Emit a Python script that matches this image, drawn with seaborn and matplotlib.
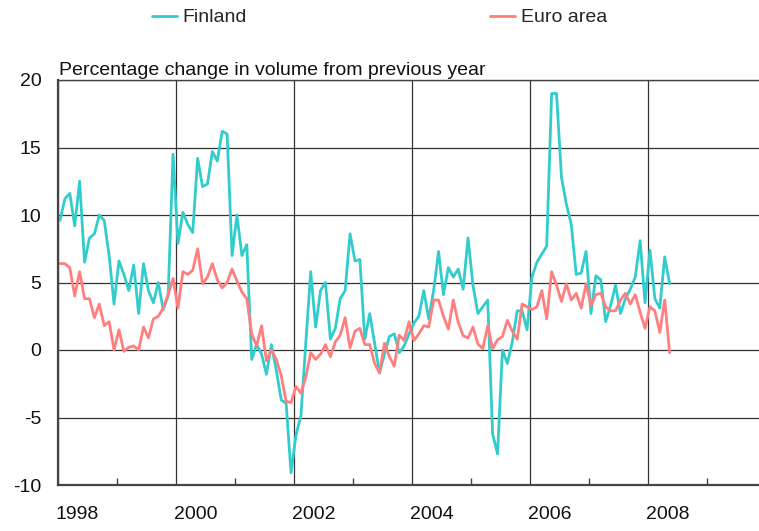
# plot.py
# Finland vs euro area: monthly volume change from previous year, 1998-2008

import numpy as np
import pandas as pd
import matplotlib
matplotlib.use("Agg")
import matplotlib.pyplot as plt
import matplotlib.transforms as mtransforms
import seaborn as sns

# Monthly series, Jan 1998 .. May 2008
finland = [
    9.6, 11.2, 11.6, 9.2, 12.5, 6.5, 8.3, 8.6, 10.0, 9.6, 7.0, 3.4,        # 1998
    6.6, 5.6, 4.4, 6.3, 2.7, 6.4, 4.4, 3.5, 5.0, 3.0, 4.0, 14.5,           # 1999
    7.9, 10.2, 9.3, 8.7, 14.2, 12.1, 12.3, 14.7, 14.0, 16.2, 16.0, 7.0,    # 2000
    10.0, 7.0, 7.8, -0.7, 0.4, -0.3, -1.8, 0.4, -1.5, -3.7, -3.95, -9.1,   # 2001
    -6.3, -4.9, 0.5, 5.8, 1.7, 4.4, 5.0, 0.8, 1.6, 3.8, 4.4, 8.6,          # 2002
    6.6, 6.7, 0.8, 2.7, 0.5, -1.7, -0.3, 1.0, 1.2, -0.2, 0.3, 1.2,         # 2003
    2.0, 2.5, 4.4, 2.3, 4.4, 7.3, 4.1, 6.1, 5.4, 6.0, 4.5, 8.3,            # 2004
    4.8, 2.7, 3.2, 3.7, -6.2, -7.7, 0.0, -1.0, 0.6, 2.9, 2.9, 1.5,         # 2005
    5.4, 6.5, 7.1, 7.7, 19.0, 19.0, 12.8, 10.8, 9.3, 5.6, 5.7, 7.3,        # 2006
    2.7, 5.5, 5.2, 2.1, 3.3, 4.8, 2.7, 3.8, 4.5, 5.4, 8.1, 3.5,            # 2007
    7.4, 3.8, 3.1, 6.9, 4.9,                                               # 2008
]
euro_area = [
    6.4, 6.4, 6.1, 4.0, 5.8, 3.8, 3.8, 2.4, 3.4, 1.8, 2.1, 0.0,            # 1998
    1.5, -0.1, 0.2, 0.3, 0.0, 1.7, 0.9, 2.3, 2.5, 3.1, 4.1, 5.3,           # 1999
    3.1, 5.8, 5.6, 5.9, 7.5, 4.9, 5.4, 6.4, 5.2, 4.6, 5.0, 6.0,            # 2000
    5.1, 4.3, 3.8, 1.2, 0.3, 1.8, -0.8, 0.0, -0.7, -1.9, -3.8, -3.9,       # 2001
    -2.7, -3.2, -2.0, -0.2, -0.7, -0.3, 0.4, -0.5, 0.6, 1.1, 2.4, 0.15,    # 2002
    1.4, 1.6, 0.4, 0.4, -1.0, -1.7, 0.5, -0.5, -1.2, 1.1, 0.7, 2.1,        # 2003
    0.7, 1.2, 1.8, 1.7, 3.7, 3.7, 2.5, 1.55, 3.7, 2.05, 1.05, 0.9,         # 2004
    1.7, 0.45, 0.1, 1.8, 0.1, 0.75, 1.0, 2.2, 1.4, 0.8, 3.4, 3.2,          # 2005
    3.0, 3.2, 4.4, 2.3, 5.8, 4.8, 3.6, 4.9, 3.7, 4.2, 3.1, 4.9,            # 2006
    3.3, 4.1, 4.2, 3.2, 2.9, 2.9, 3.7, 4.2, 3.4, 4.1, 2.8, 1.6,            # 2007
    3.2, 2.9, 1.3, 3.7, -0.2,                                              # 2008
]
series_names = ["Finland", "Euro area"]
series_colors = ["#33CCCC", "#FF7F7F"]
year_labels = ["1998", "2000", "2002", "2004", "2006", "2008"]
y_ticks = [-10, -5, 0, 5, 10, 15, 20]

# month midpoints as decimal years
months = 1998 + (np.arange(len(finland)) + 0.5) / 12
df = pd.concat([
    pd.DataFrame({"t": months, "value": finland, "series": "Finland"}),
    pd.DataFrame({"t": months, "value": euro_area, "series": "Euro area"}),
])

sns.set_theme(style="white")
plt.rcParams["font.family"] = ["Liberation Sans", "DejaVu Sans"]
FS = 14

fig = plt.figure(figsize=(7.59, 5.31), dpi=100)
ax = fig.add_axes([57.5 / 759, 46 / 531, 708 / 759, 405 / 531])

sns.lineplot(data=df, x="t", y="value", hue="series", hue_order=series_names,
             palette=series_colors, linewidth=2.0, ax=ax)

ax.set_xlim(1998, 2010)
ax.set_ylim(-10, 20)
ax.set_xlabel("")
ax.set_ylabel("")

# even years: gridlines + labels shifted right; odd years: small inward ticks
ax.set_xticks([int(y) for y in year_labels])
ax.set_xticklabels(year_labels, fontsize=FS, color="#111111")
ax.set_xticks(range(1999, 2010, 2), minor=True)
ax.tick_params(axis="x", which="major", length=0, pad=15)
ax.tick_params(axis="x", which="minor", direction="in", length=5, width=1, color="#444444", bottom=True)
offset = mtransforms.ScaledTranslation(0.2, 0, fig.dpi_scale_trans)
for lab in ax.get_xticklabels():
    lab.set_transform(lab.get_transform() + offset)

ax.set_yticks(y_ticks)
ax.set_yticklabels([str(v) for v in y_ticks], fontsize=FS, color="#111111")
ax.tick_params(axis="y", length=0, pad=11.5)

ax.grid(True, which="major", axis="both", color="#333333", linewidth=0.9)
ax.set_axisbelow(True)

for side in ["left", "bottom"]:
    ax.spines[side].set_color("#444444")
    ax.spines[side].set_linewidth(1.6)
ax.spines["top"].set_color("#444444")
ax.spines["top"].set_linewidth(1.0)
ax.spines["right"].set_visible(False)

ax.text(0.002, 1.002, "Percentage change in volume from previous year",
        transform=ax.transAxes, ha="left", va="bottom", fontsize=FS, color="#111111")

handles, labels = ax.get_legend_handles_labels()
ax.get_legend().remove()
fig.legend(handles, labels, loc="center", bbox_to_anchor=(0.500, 0.967), ncol=2,
           frameon=False, fontsize=FS, handlelength=1.3, handletextpad=0.3,
           columnspacing=12.5)

fig.savefig("out.png", dpi=100)
plt.close(fig)
